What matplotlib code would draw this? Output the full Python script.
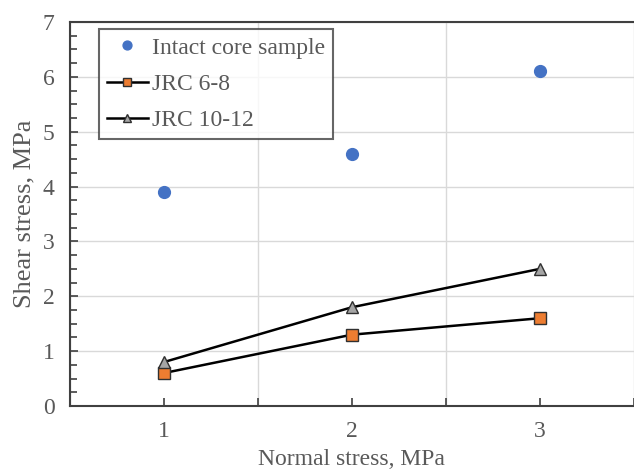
import matplotlib.pyplot as plt
from matplotlib.ticker import MultipleLocator, FixedLocator

plt.rcParams['font.family'] = ['Liberation Serif', 'DejaVu Serif']

normal_stress = [1, 2, 3]
intact_core = [3.9, 4.6, 6.1]
jrc_6_8 = [0.6, 1.3, 1.6]
jrc_10_12 = [0.8, 1.8, 2.5]

text_color = '#595959'
spine_color = '#404040'

fig = plt.figure(figsize=(6.34, 4.74), dpi=100)
ax = fig.add_axes([0.110, 0.1435, 0.890, 0.810])

ax.plot(normal_stress, intact_core, linestyle='none', marker='o', markersize=8.5,
        color='#4472C4', label='Intact core sample', zorder=3)
ax.plot(normal_stress, jrc_6_8, color='black', linewidth=1.8, marker='s', markersize=8.5,
        markerfacecolor='#ED7D31', markeredgecolor='#303030', markeredgewidth=1,
        label='JRC 6-8', zorder=3)
ax.plot(normal_stress, jrc_10_12, color='black', linewidth=1.8, marker='^', markersize=8.5,
        markerfacecolor='#A5A5A5', markeredgecolor='#303030', markeredgewidth=1,
        label='JRC 10-12', zorder=3)

ax.set_xlim(0.5, 3.5)
ax.set_ylim(0, 7)

# grid at the category borders, labels at the centres
ax.xaxis.set_major_locator(FixedLocator([0.5, 1.5, 2.5, 3.5]))
ax.xaxis.set_minor_locator(FixedLocator([1, 2, 3]))
ax.set_xticklabels([], minor=False)
ax.set_xticklabels(['1', '2', '3'], minor=True)
ax.yaxis.set_major_locator(MultipleLocator(1))
ax.yaxis.set_minor_locator(MultipleLocator(0.25))

ax.grid(True, which='major', color='#D9D9D9', linewidth=1)
ax.set_axisbelow(True)

ax.tick_params(axis='x', which='both', direction='in', length=6, width=1.2,
               color=spine_color, labelsize=17, labelcolor=text_color, pad=11)
ax.tick_params(axis='y', which='major', direction='in', length=6, width=1.2,
               color=spine_color, labelsize=17, labelcolor=text_color, pad=11)
ax.tick_params(axis='y', which='minor', direction='in', length=5, width=1.2,
               color=spine_color)

for side in ['left', 'bottom', 'top']:
    ax.spines[side].set_color(spine_color)
    ax.spines[side].set_linewidth(1.5)
ax.spines['right'].set_visible(False)

ax.set_xlabel('Normal stress, MPa', fontsize=17, color=text_color, labelpad=5)
ax.set_ylabel('Shear stress, MPa', fontsize=19, color=text_color, labelpad=5)

leg = ax.legend(loc='upper left', bbox_to_anchor=(0.051, 0.982), fontsize=17,
                frameon=True, fancybox=False, borderpad=0.35, handlelength=1.75,
                handletextpad=0.15, labelspacing=0.62, borderaxespad=0,
                markerscale=0.75)
leg.get_frame().set_edgecolor(spine_color)
leg.get_frame().set_linewidth(1.5)
for t in leg.get_texts():
    t.set_color(text_color)

fig.savefig('out.png', dpi=100)
